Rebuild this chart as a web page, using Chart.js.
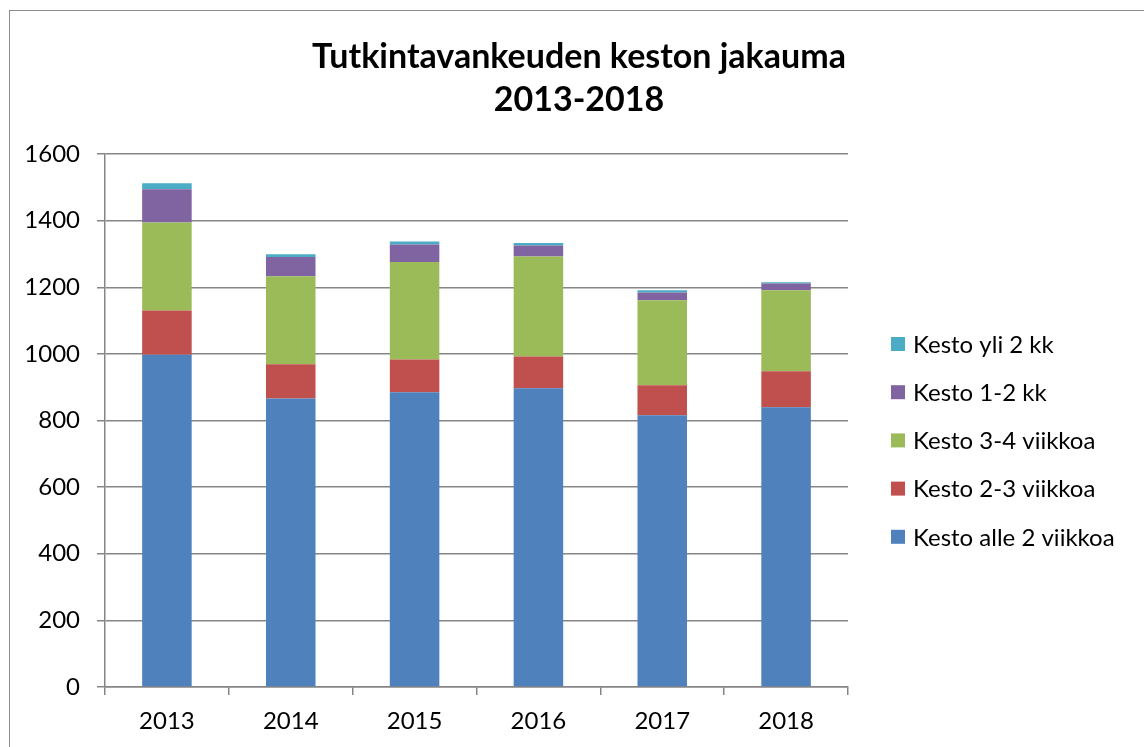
<!DOCTYPE html>
<html>
<head>
<meta charset="utf-8">
<script src="https://cdn.jsdelivr.net/npm/chart.js@4/dist/chart.umd.min.js"></script>
<style>
    html, body { margin: 0; padding: 0; background: #fff; }
    #wrap { position: relative; width: 1144px; height: 747px; overflow: hidden; }
    #frame {
        position: absolute; left: 9px; top: 10px; width: 1140px; height: 760px;
        border: 1px solid #8c8c8c; border-right-color: #d9d9d9; box-sizing: border-box;
    }
    #chart { position: absolute; left: 0; top: 0; }
</style>
</head>
<body>
<div id="wrap">
    <div id="frame"></div>
    <canvas id="chart" width="1144" height="747"></canvas>
</div>
<script>
// Data
const years = ['2013', '2014', '2015', '2016', '2017', '2018'];
const alle2viikkoa = [997, 866, 885, 897, 816, 840];
const viikkoa2to3 = [133, 103, 98, 95, 90, 108];
const viikkoa3to4 = [264, 264, 293, 300, 255, 243];
const kk1to2 = [100, 58, 52, 33, 23, 20];
const yli2kk = [18, 8, 9, 8, 7, 4];
const yTicks = [0, 200, 400, 600, 800, 1000, 1200, 1400, 1600];
const titleLines = ['Tutkintavankeuden keston jakauma', '2013-2018'];

const FONT = 'Lato, "Open Sans", sans-serif';

// Title centred over the whole frame, legend on the right (reverse order)
const decorations = {
    id: 'decorations',
    afterDraw(chart) {
        const ctx = chart.ctx;
        ctx.save();

        ctx.font = 'bold 34px ' + FONT;
        ctx.fillStyle = '#000';
        ctx.textAlign = 'center';
        ctx.textBaseline = 'middle';
        titleLines.forEach((line, i) => ctx.fillText(line, 579, 57 + i * 43.5));

        const sets = chart.data.datasets.slice().reverse();
        ctx.font = '24px ' + FONT;
        ctx.textAlign = 'left';
        sets.forEach((ds, i) => {
            const cy = 344 + i * 48.2;
            ctx.fillStyle = ds.backgroundColor;
            ctx.fillRect(891, cy - 7, 14, 14);
            ctx.fillStyle = '#000';
            ctx.fillText(ds.label, 913, cy + 1);
        });
        ctx.restore();
    }
};

new Chart(document.getElementById('chart'), {
    type: 'bar',
    data: {
        labels: years,
        datasets: [
            { label: 'Kesto alle 2 viikkoa', data: alle2viikkoa, backgroundColor: '#4F81BD' },
            { label: 'Kesto 2-3 viikkoa', data: viikkoa2to3, backgroundColor: '#C0504D' },
            { label: 'Kesto 3-4 viikkoa', data: viikkoa3to4, backgroundColor: '#9BBB59' },
            { label: 'Kesto 1-2 kk', data: kk1to2, backgroundColor: '#8064A2' },
            { label: 'Kesto yli 2 kk', data: yli2kk, backgroundColor: '#4BACC6' }
        ]
    },
    options: {
        responsive: false,
        animation: false,
        categoryPercentage: 1,
        barPercentage: 0.4,
        layout: { padding: { left: 0, right: 296, top: 154, bottom: 0 } },
        plugins: {
            legend: { display: false },
            tooltip: { enabled: false },
            title: { display: false }
        },
        scales: {
            x: {
                stacked: true,
                offset: true,
                grid: {
                    display: true, offset: true, drawOnChartArea: false,
                    drawTicks: true, tickLength: 8, color: '#868686', lineWidth: 1.5
                },
                border: { display: true, color: '#868686', width: 1.5 },
                ticks: { color: '#000', padding: 12, font: { family: FONT, size: 24 } },
                afterFit(scale) { scale.height = 60; }
            },
            y: {
                stacked: true,
                min: 0,
                max: 1600,
                afterBuildTicks(scale) { scale.ticks = yTicks.map(v => ({ value: v })); },
                grid: { color: '#868686', lineWidth: 1.5, tickLength: 8 },
                border: { display: true, color: '#868686', width: 1.5 },
                ticks: {
                    color: '#000', padding: 17, font: { family: FONT, size: 24 },
                    callback: v => String(v)
                },
                afterFit(scale) { scale.width = 105; }
            }
        }
    },
    plugins: [decorations]
});
</script>
</body>
</html>
